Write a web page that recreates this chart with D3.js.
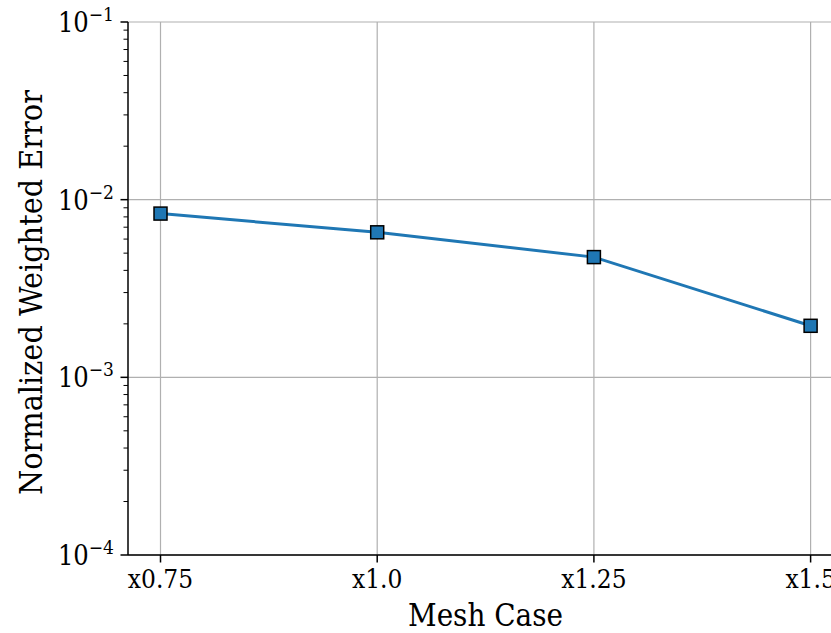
<!DOCTYPE html>
<html>
<head>
<meta charset="utf-8">
<script src="https://d3js.org/d3.v7.min.js"></script>
<style>
  body { margin: 0; background: #fff; }
  text { font-family: "DejaVu Serif Condensed", "DejaVu Serif", serif; fill: #000; }
</style>
</head>
<body>
<svg width="831" height="633"></svg>
<script>
    // data
    const meshCases = ["x0.75", "x1.0", "x1.25", "x1.5"];
    const errorValues = [0.00835, 0.00655, 0.00475, 0.00195];
    const yTickExps = [-4, -3, -2, -1];

    const svg = d3.select("svg");
    const plotLeft = 128, plotTop = 22, plotBottom = 555;
    const step = 216.7;
    const plotRight = plotLeft + step * 3.3; // matplotlib 5% margins, cropped on right

    const x = d3.scaleLinear().domain([-0.15, 3.15]).range([plotLeft, plotRight]);
    const y = d3.scaleLog().domain([1e-4, 1e-1]).range([plotBottom, plotTop]);

    // grid
    const grid = svg.append("g");
    meshCases.forEach((c, i) => {
        grid.append("line")
            .attr("x1", x(i)).attr("x2", x(i))
            .attr("y1", plotTop).attr("y2", plotBottom)
            .attr("stroke", "#b0b0b0").attr("stroke-width", 1.2);
    });
    yTickExps.forEach(e => {
        grid.append("line")
            .attr("x1", plotLeft).attr("x2", plotRight)
            .attr("y1", y(Math.pow(10, e))).attr("y2", y(Math.pow(10, e)))
            .attr("stroke", "#b0b0b0").attr("stroke-width", 1.2);
    });

    // y axis with minor ticks
    const yAxis = svg.append("g").attr("transform", `translate(${plotLeft},0)`);
    yAxis.append("line")
        .attr("x1", 0).attr("x2", 0).attr("y1", plotTop).attr("y2", plotBottom)
        .attr("stroke", "#000").attr("stroke-width", 1.5);
    for (let e = -4; e < -1; e++) {
        for (let m = 2; m <= 9; m++) {
            const v = m * Math.pow(10, e);
            yAxis.append("line")
                .attr("x1", -4.5).attr("x2", 0)
                .attr("y1", y(v)).attr("y2", y(v))
                .attr("stroke", "#000").attr("stroke-width", 1);
        }
    }
    yTickExps.forEach(e => {
        const yy = y(Math.pow(10, e));
        yAxis.append("line")
            .attr("x1", -7.5).attr("x2", 0).attr("y1", yy).attr("y2", yy)
            .attr("stroke", "#000").attr("stroke-width", 1.5);
        const t = yAxis.append("text")
            .attr("x", -14).attr("y", yy + 10)
            .attr("text-anchor", "end")
            .attr("font-size", 27);
        t.append("tspan").text("10");
        t.append("tspan").attr("dy", -11).attr("font-size", 19).text("\u2212" + Math.abs(e));
    });

    // x axis
    const xAxis = svg.append("g");
    xAxis.append("line")
        .attr("x1", plotLeft).attr("x2", plotRight)
        .attr("y1", plotBottom).attr("y2", plotBottom)
        .attr("stroke", "#000").attr("stroke-width", 1.5);
    meshCases.forEach((c, i) => {
        xAxis.append("line")
            .attr("x1", x(i)).attr("x2", x(i))
            .attr("y1", plotBottom).attr("y2", plotBottom + 7.5)
            .attr("stroke", "#000").attr("stroke-width", 1.5);
        xAxis.append("text")
            .attr("x", x(i)).attr("y", plotBottom + 33)
            .attr("text-anchor", "middle")
            .attr("font-size", 26)
            .text(c);
    });

    // axis labels
    svg.append("text")
        .attr("x", x(1.5)).attr("y", 626)
        .attr("text-anchor", "middle")
        .attr("font-size", 31)
        .text("Mesh Case");
    svg.append("text")
        .attr("transform", `translate(42,${(plotTop + plotBottom) / 2 + 4}) rotate(-90)`)
        .attr("text-anchor", "middle")
        .attr("font-size", 32)
        .text("Normalized Weighted Error");

    // line + markers
    const line = d3.line().x((d, i) => x(i)).y(d => y(d));
    svg.append("path")
        .datum(errorValues)
        .attr("d", line)
        .attr("fill", "none")
        .attr("stroke", "#1f77b4")
        .attr("stroke-width", 3);
    svg.selectAll("rect.pt")
        .data(errorValues)
        .join("rect")
        .attr("class", "pt")
        .attr("x", (d, i) => x(i) - 6.5)
        .attr("y", d => y(d) - 6.5)
        .attr("width", 13).attr("height", 13)
        .attr("fill", "#1f77b4")
        .attr("stroke", "#000")
        .attr("stroke-width", 1.5);
</script>
</body>
</html>
